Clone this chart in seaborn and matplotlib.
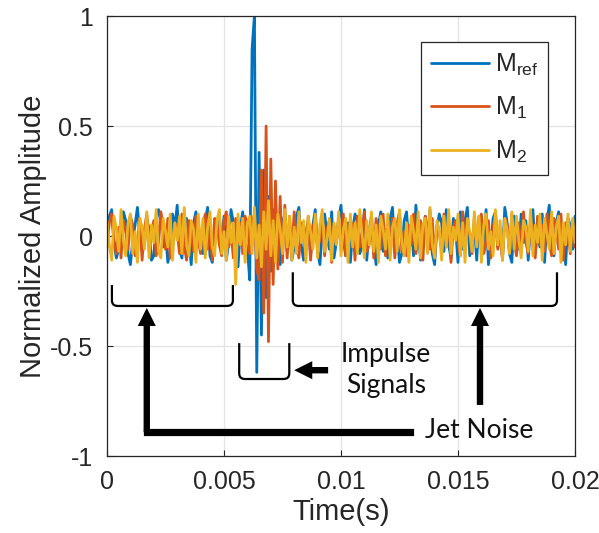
import numpy as np
import pandas as pd
import matplotlib
matplotlib.use("Agg")
import matplotlib.pyplot as plt
import seaborn as sns
from matplotlib.path import Path
from matplotlib.patches import PathPatch

# ---------------- data ----------------
DT = 0.0001  # sampling step (s)

m_ref = [
    0.02, 0.09, 0.12, -0.03, -0.10, -0.06, 0.04, 0.11, 0.07, -0.08, -0.13, -0.02, 0.05, 0.13, 0.01, -0.07, -0.04, 0.08, 0.03, -0.11,
    -0.09, 0.06, 0.12, 0.09, -0.05, 0.02, -0.12, -0.07, 0.10, 0.04, 0.14, -0.06, -0.10, 0.03, 0.08, -0.02, -0.13, 0.06, 0.11, -0.04,
    0.01, -0.08, 0.07, 0.13, -0.09, -0.12, 0.05, 0.02, 0.10, -0.06, 0.09, -0.11, -0.03, 0.12, 0.06, -0.08, -0.14, 0.04, 0.11, -0.02,
    -0.06, -0.20, 0.85, 1.00, -0.62, 0.38, -0.45, 0.30, -0.28, 0.18, -0.16, 0.12, -0.10, 0.08, -0.13, 0.06, 0.10, -0.07, 0.04, -0.11,
    -0.05, 0.09, 0.13, -0.04, -0.11, 0.02, 0.07, -0.09, 0.05, 0.12, -0.07, -0.13, 0.04, 0.10, 0.01, -0.06, 0.11, -0.10, -0.03, 0.08,
    0.14, -0.02, -0.09, 0.06, -0.12, 0.03, 0.10, 0.07, -0.08, -0.05, 0.12, -0.11, 0.02, 0.09, -0.04, -0.13, 0.05, 0.11, -0.07, 0.03,
    -0.10, 0.08, 0.13, -0.06, 0.01, -0.12, -0.08, 0.07, 0.11, -0.03, 0.05, -0.09, 0.14, 0.02, -0.11, -0.05, 0.09, -0.02, 0.12, -0.08,
    -0.13, 0.04, 0.10, 0.06, -0.07, 0.12, -0.04, -0.10, 0.08, 0.03, -0.12, 0.11, -0.06, 0.07, 0.13, -0.09, -0.02, 0.05, -0.11, 0.09,
    0.02, -0.07, 0.12, -0.13, -0.04, 0.08, 0.11, -0.05, 0.03, -0.10, 0.13, 0.06, -0.08, -0.12, 0.09, 0.01, -0.06, 0.10, -0.03, 0.07,
    -0.11, 0.05, 0.12, -0.08, 0.02, -0.05, 0.10, -0.12, 0.07, 0.14, -0.04, -0.09, 0.06, 0.11, -0.07, 0.03, -0.13, 0.08, 0.05, -0.06,
    0.09,
]

m_1 = [
    -0.05, 0.06, 0.10, -0.02, -0.08, 0.04, -0.10, 0.07, 0.02, -0.06, 0.09, 0.05, -0.09, -0.04, 0.08, -0.11, 0.03, 0.10, -0.07, 0.01,
    0.07, -0.09, -0.03, 0.11, 0.05, -0.06, 0.08, -0.10, -0.05, 0.06, 0.02, -0.08, 0.10, -0.04, -0.11, 0.07, 0.04, -0.07, 0.09, -0.02,
    -0.08, 0.05, 0.10, -0.06, 0.03, -0.11, 0.08, 0.06, -0.04, -0.09, 0.07, 0.11, -0.05, 0.02, -0.10, 0.08, -0.03, 0.06, -0.08, 0.09,
    0.05, -0.08, 0.06, 0.10, -0.15, -0.20, 0.30, -0.35, 0.50, -0.48, 0.35, -0.22, 0.25, -0.15, 0.18, -0.12, 0.14, -0.10, 0.09, -0.08,
    0.11, -0.04, -0.10, 0.06, 0.02, -0.07, 0.09, -0.11, 0.04, 0.08, -0.05, -0.02, 0.10, -0.09, 0.03, 0.07, -0.12, 0.05, -0.03, 0.08,
    -0.06, 0.10, -0.09, -0.02, 0.07, 0.04, -0.11, 0.09, -0.05, 0.02, 0.11, -0.07, -0.04, 0.06, -0.10, 0.08, 0.03, -0.06, 0.10, -0.09,
    0.04, -0.03, 0.08, -0.10, 0.06, 0.11, -0.07, 0.02, -0.09, 0.05, -0.04, 0.10, -0.08, -0.02, 0.07, -0.11, 0.09, 0.03, -0.06, 0.08,
    -0.10, 0.05, 0.02, -0.07, 0.10, -0.05, 0.08, -0.12, 0.04, 0.07, -0.03, -0.09, 0.11, -0.06, 0.05, 0.01, -0.08, 0.09, -0.04, 0.06,
    0.10, -0.08, -0.03, 0.07, -0.10, 0.04, 0.09, -0.06, 0.02, -0.11, 0.08, 0.05, -0.07, 0.10, -0.02, -0.09, 0.06, -0.05, 0.11, -0.03,
    -0.08, 0.07, 0.03, -0.10, 0.09, -0.04, 0.05, -0.07, 0.10, -0.02, -0.09, 0.08, 0.04, -0.06, 0.10, -0.11, 0.06, 0.02, -0.08, 0.07,
    -0.05,
]

m_2 = [
    0.07, -0.04, -0.11, 0.09, 0.03, -0.07, 0.12, -0.02, -0.09, 0.06, 0.10, -0.08, 0.02, -0.12, 0.08, 0.04, -0.06, 0.11, -0.10, 0.05,
    -0.03, 0.12, -0.07, -0.10, 0.08, 0.02, -0.05, 0.10, -0.11, 0.06, -0.02, 0.09, -0.08, 0.13, -0.04, -0.09, 0.07, 0.03, -0.12, 0.10,
    -0.06, 0.08, -0.10, 0.04, 0.11, -0.05, -0.09, 0.07, 0.12, -0.08, 0.02, -0.11, 0.09, -0.03, 0.06, -0.22, 0.10, -0.04, 0.08, -0.12,
    0.06, 0.09, -0.08, 0.13, -0.10, 0.05, -0.14, 0.11, -0.06, 0.16, -0.09, 0.07, -0.12, 0.10, 0.03, -0.08, 0.12, -0.05, 0.09, -0.11,
    0.04, -0.08, 0.11, -0.03, 0.07, -0.12, 0.09, 0.02, -0.06, 0.10, -0.10, 0.05, 0.12, -0.07, -0.02, 0.08, -0.11, 0.06, -0.04, 0.11,
    -0.09, 0.03, 0.08, -0.12, 0.10, -0.05, 0.06, -0.08, 0.12, 0.01, -0.10, 0.07, -0.04, 0.11, -0.07, 0.05, -0.12, 0.09, 0.03, -0.06,
    0.10, -0.11, 0.04, 0.08, -0.07, 0.12, -0.03, -0.09, 0.06, -0.12, 0.09, 0.02, -0.06, 0.11, -0.10, 0.05, 0.08, -0.08, 0.13, -0.04,
    -0.10, 0.07, 0.03, -0.11, 0.09, -0.05, 0.12, -0.08, 0.04, -0.02, 0.10, -0.09, 0.06, -0.12, 0.08, 0.02, -0.07, 0.11, -0.05, 0.09,
    -0.12, 0.05, 0.10, -0.06, 0.02, -0.09, 0.12, -0.04, 0.07, -0.11, 0.08, 0.03, -0.08, 0.11, -0.06, 0.09, -0.02, -0.10, 0.07, 0.04,
    -0.07, 0.12, -0.09, 0.05, -0.03, 0.10, -0.11, 0.08, 0.01, -0.06, 0.11, -0.08, 0.04, 0.09, -0.12, 0.06, -0.04, 0.10, -0.07, 0.08,
    -0.03,
]

series_names = ["M$_{\\mathrm{ref}}$", "M$_{1}$", "M$_{2}$"]
series_values = [m_ref, m_1, m_2]
colors = ["#0072BD", "#D95319", "#EDB120"]

x_ticks = [0, 0.005, 0.01, 0.015, 0.02]
x_tick_labels = ["0", "0.005", "0.01", "0.015", "0.02"]
y_ticks = [-1, -0.5, 0, 0.5, 1]
y_tick_labels = ["-1", "-0.5", "0", "0.5", "1"]

# ---------------- build long table ----------------
frames = []
for name, vals in zip(series_names, series_values):
    t = np.arange(len(vals)) * DT
    frames.append(pd.DataFrame({"time": t, "amp": vals, "signal": name}))
df = pd.concat(frames, ignore_index=True)

# ---------------- style ----------------
sns.set_style("ticks")
plt.rcParams["font.family"] = ["Liberation Sans", "DejaVu Sans"]
plt.rcParams["mathtext.fontset"] = "custom"
plt.rcParams["mathtext.rm"] = "Liberation Sans"
plt.rcParams["mathtext.default"] = "regular"

fig = plt.figure(figsize=(5.99, 5.33), dpi=100)
ax = fig.add_axes([107 / 599, 1 - 456 / 533, 468 / 599, 440 / 533])

sns.lineplot(data=df, x="time", y="amp", hue="signal", palette=colors,
             estimator=None, sort=False, linewidth=2.0, ax=ax)

ax.set_xlim(0, 0.02)
ax.set_ylim(-1, 1)
ax.set_xticks(x_ticks)
ax.set_xticklabels(x_tick_labels)
ax.set_yticks(y_ticks)
ax.set_yticklabels(y_tick_labels)
ax.grid(True, color="#e3e3e3", linewidth=0.9)
ax.set_axisbelow(True)
for s in ax.spines.values():
    s.set_visible(True)
    s.set_color("#262626")
    s.set_linewidth(0.9)
ax.tick_params(direction="in", length=4, width=0.8, colors="#262626",
               labelsize=18, top=False, right=False)
ax.tick_params(axis="x", pad=10)
ax.tick_params(axis="y", pad=10)
ax.set_xlabel("Time(s)", fontsize=21, color="#262626", labelpad=3)
ax.set_ylabel("Normalized Amplitude", fontsize=21, color="#262626", labelpad=2)

leg = ax.legend(loc="upper right", bbox_to_anchor=(0.943, 0.942), borderaxespad=0,
                fontsize=18, frameon=True, fancybox=False, framealpha=1,
                handlelength=2.3, labelspacing=0.7, handletextpad=0.25,
                borderpad=0.4)
leg.get_frame().set_edgecolor("#262626")
leg.get_frame().set_linewidth(0.9)
for h in leg.get_lines():
    h.set_linewidth(2)

# ---------------- annotations ----------------
def bracket(x0, x1, ytip, ybot, rx=0.00025, ry=0.025, lw=1.6):
    verts = [(x0, ytip), (x0, ybot + ry), (x0, ybot), (x0 + rx, ybot),
             (x1 - rx, ybot), (x1, ybot), (x1, ybot + ry), (x1, ytip)]
    codes = [Path.MOVETO, Path.LINETO, Path.CURVE3, Path.CURVE3,
             Path.LINETO, Path.CURVE3, Path.CURVE3, Path.LINETO]
    ax.add_patch(PathPatch(Path(verts, codes), fill=False, edgecolor="black",
                           linewidth=lw, zorder=5))

bracket(0.00021, 0.00538, -0.223, -0.318)
bracket(0.00794, 0.01923, -0.165, -0.318)
bracket(0.00565, 0.00779, -0.487, -0.650)

arrow_kw = dict(facecolor="black", edgecolor="none", width=4.6,
                headwidth=13, headlength=13, shrink=0)
# Jet noise arrows
ax.plot([0.00170, 0.01295], [-0.892, -0.892], color="black", linewidth=5.2,
        solid_capstyle="projecting", zorder=5)
ax.annotate("", xy=(0.00170, -0.327), xytext=(0.00170, -0.892),
            arrowprops=arrow_kw, zorder=5)
ax.annotate("", xy=(0.01594, -0.327), xytext=(0.01594, -0.768),
            arrowprops=arrow_kw, zorder=5)
# Impulse arrow
ax.annotate("", xy=(0.00800, -0.610), xytext=(0.00945, -0.610),
            arrowprops=arrow_kw, zorder=5)

ax.text(0.01192, -0.607, "Impulse\nSignals", ha="center", va="center",
        fontsize=19, family=["Lato", "DejaVu Sans"], linespacing=1.3, color="#111111")
ax.text(0.01592, -0.882, "Jet Noise", ha="center", va="center",
        fontsize=19, family=["Lato", "DejaVu Sans"], color="#111111")

fig.savefig("out.png", dpi=100)
